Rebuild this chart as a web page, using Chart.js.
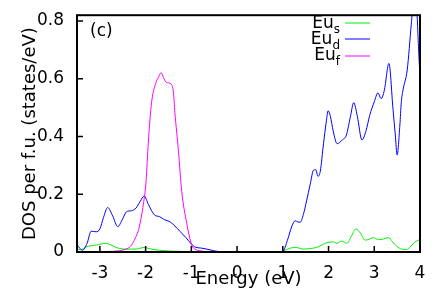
<!DOCTYPE html>
<html>
<head>
<meta charset="utf-8">
<script src="https://cdn.jsdelivr.net/npm/chart.js@4.4.1/dist/chart.umd.min.js"></script>
<style>
  html, body { margin: 0; padding: 0; background: #fff; }
  #wrap { width: 436px; height: 294px; }
</style>
</head>
<body>
<div id="wrap"><canvas id="dos" width="436" height="294"></canvas></div>
<script>
/* ====== DATA ====== */
const xTicks = [-3, -2, -1, 0, 1, 2, 3, 4];
const yTicks = [0, 0.2, 0.4, 0.6, 0.8];

// Eu s
const sEnergy = [-3.5, -3.42, -3.3, -3.08, -2.87, -2.75, -2.65, -2.43, -2.21, -2.1, -2.03, -1.95, -1.84, -1.55, -1.2, -1.0,
  0.9, 1.0, 1.1, 1.27, 1.45, 1.6, 1.74, 1.85, 1.92, 2.02, 2.11, 2.18, 2.29, 2.4, 2.5, 2.6, 2.7, 2.8, 2.9, 2.98,
  3.09, 3.2, 3.31, 3.4, 3.49, 3.6, 3.71, 3.8, 3.89, 4.0];
const sDos = [0.01, 0.008, 0.018, 0.024, 0.03, 0.024, 0.016, 0.01, 0.01, 0.014, 0.016, 0.013, 0.009, 0.004, 0.002, 0,
  0, 0.002, 0.01, 0.016, 0.01, 0.012, 0.016, 0.024, 0.03, 0.034, 0.035, 0.03, 0.038, 0.03, 0.055, 0.08, 0.065, 0.041, 0.045, 0.05,
  0.043, 0.045, 0.05, 0.035, 0.02, 0.01, 0.009, 0.02, 0.035, 0.043];

// Eu d
const dEnergy = [-3.5, -3.38, -3.28, -3.19, -3.08, -3.0, -2.92, -2.83, -2.72, -2.61, -2.5, -2.42, -2.31, -2.21, -2.12, -2.03,
  -1.94, -1.81, -1.69, -1.59, -1.47, -1.36, -1.25, -1.12, -1.0, -0.9, -0.8, -0.66, -0.5, -0.37, -0.3,
  0.9, 1.0, 1.1, 1.2, 1.27, 1.33, 1.38, 1.45, 1.52, 1.6, 1.67, 1.72, 1.77, 1.82, 1.89, 1.95, 1.99, 2.04, 2.1, 2.19,
  2.3, 2.39, 2.48, 2.55, 2.63, 2.73, 2.82, 2.9, 3.0, 3.08, 3.15, 3.22, 3.32, 3.41, 3.46, 3.5, 3.56, 3.59, 3.63,
  3.72, 3.81, 3.87, 3.92, 3.97, 4.0];
const dDos = [0.025, 0.006, 0.03, 0.072, 0.07, 0.08, 0.12, 0.154, 0.125, 0.088, 0.115, 0.139, 0.143, 0.152, 0.175, 0.194,
  0.165, 0.129, 0.122, 0.112, 0.105, 0.09, 0.072, 0.05, 0.028, 0.016, 0.014, 0.01, 0.004, 0.001, 0,
  0, 0.002, 0.04, 0.09, 0.108, 0.104, 0.103, 0.13, 0.177, 0.235, 0.283, 0.285, 0.262, 0.28, 0.375, 0.45, 0.489, 0.47, 0.42, 0.375,
  0.388, 0.405, 0.47, 0.517, 0.47, 0.388, 0.42, 0.473, 0.52, 0.551, 0.531, 0.56, 0.653, 0.494, 0.405, 0.336, 0.44, 0.517, 0.562,
  0.63, 0.789, 0.88, 0.86, 0.7, 0.6];

// Eu f
const fEnergy = [-3.5, -2.8, -2.6, -2.43, -2.33, -2.25, -2.14, -2.06, -1.99, -1.94, -1.87, -1.79, -1.72, -1.66, -1.6, -1.54,
  -1.45, -1.39, -1.36, -1.32, -1.28, -1.21, -1.1, -0.99, -0.92, -0.8, -0.5, 4.0];
const fDos = [0.001, 0.002, 0.004, 0.01, 0.02, 0.04, 0.086, 0.154, 0.245, 0.381, 0.517, 0.579, 0.605, 0.621, 0.6, 0.587,
  0.583, 0.551, 0.483, 0.415, 0.347, 0.21, 0.099, 0.024, 0.01, 0.004, 0, 0];

const seriesColors = { s: '#00ee00', d: '#0000ff', f: '#ff00ff' };

function pairs(xs, ys) {
  return xs.map((x, i) => ({ x: x, y: ys[i] }));
}

/* ====== FRAME, INWARD TICKS, KEY, PANEL LABEL ====== */
const decorPlugin = {
  id: 'decor',
  afterDraw(chart) {
    const ctx = chart.ctx;
    const a = chart.chartArea;
    const xs = chart.scales.x;
    const ys = chart.scales.y;
    ctx.save();

    // inward tick marks
    ctx.strokeStyle = '#000';
    ctx.lineWidth = 1.5;
    ctx.beginPath();
    xTicks.forEach(v => {
      const px = xs.getPixelForValue(v);
      ctx.moveTo(px, a.bottom);
      ctx.lineTo(px, a.bottom - 6);
    });
    yTicks.forEach(v => {
      const py = ys.getPixelForValue(v);
      ctx.moveTo(a.left, py);
      ctx.lineTo(a.left + 6, py);
    });
    ctx.stroke();

    // frame
    ctx.lineWidth = 2;
    ctx.strokeRect(a.left, a.top, a.right - a.left, a.bottom - a.top);

    // panel label
    ctx.fillStyle = '#000';
    ctx.font = '17px "DejaVu Sans"';
    ctx.textBaseline = 'middle';
    ctx.textAlign = 'left';
    ctx.fillText('(c)', 90, 32);

    // key with subscripts
    const rows = [
      { sub: 's', color: seriesColors.s, base: 28, line: 23 },
      { sub: 'd', color: seriesColors.d, base: 44, line: 39 },
      { sub: 'f', color: seriesColors.f, base: 60, line: 56 },
    ];
    ctx.textBaseline = 'alphabetic';
    rows.forEach(r => {
      ctx.font = '17px "DejaVu Sans"';
      const w1 = ctx.measureText('Eu').width;
      ctx.font = '12px "DejaVu Sans"';
      const w2 = ctx.measureText(r.sub).width;
      const x0 = 340 - w1 - w2;
      ctx.fillStyle = '#000';
      ctx.font = '17px "DejaVu Sans"';
      ctx.fillText('Eu', x0, r.base);
      ctx.font = '12px "DejaVu Sans"';
      ctx.fillText(r.sub, x0 + w1, r.base + 5);
      ctx.strokeStyle = r.color;
      ctx.lineWidth = 1;
      ctx.beginPath();
      ctx.moveTo(345, r.line);
      ctx.lineTo(370, r.line);
      ctx.stroke();
    });

    ctx.restore();
  }
};

const ctx = document.getElementById('dos').getContext('2d');
new Chart(ctx, {
  type: 'line',
  data: {
    datasets: [
      { label: 'Eu s', data: pairs(sEnergy, sDos), borderColor: seriesColors.s, order: 2 },
      { label: 'Eu d', data: pairs(dEnergy, dDos), borderColor: seriesColors.d, order: 1 },
      { label: 'Eu f', data: pairs(fEnergy, fDos), borderColor: seriesColors.f, order: 0 },
    ],
  },
  options: {
    responsive: false,
    animation: false,
    layout: { padding: { top: 10, right: 16, left: 0, bottom: 0 } },
    elements: {
      point: { radius: 0 },
      line: { borderWidth: 1, fill: false, cubicInterpolationMode: 'monotone' },
    },
    plugins: { legend: { display: false }, tooltip: { enabled: false } },
    scales: {
      x: {
        type: 'linear',
        min: -3.5,
        max: 4,
        afterBuildTicks: (s) => { s.ticks = xTicks.map(v => ({ value: v })); },
        afterFit: (s) => { s.height = 42; },
        grid: { display: false },
        border: { display: false },
        ticks: {
          color: '#000',
          padding: 3,
          maxRotation: 0,
          font: { family: 'DejaVu Sans', size: 17 },
          callback: (v) => String(v),
        },
        title: {
          display: true,
          text: 'Energy (eV)',
          color: '#000',
          font: { family: 'DejaVu Sans', size: 18, lineHeight: 1 },
          padding: { top: 0, bottom: 6 },
        },
      },
      y: {
        type: 'linear',
        min: 0,
        max: 0.82,
        afterBuildTicks: (s) => { s.ticks = yTicks.map(v => ({ value: v })); },
        afterFit: (s) => { s.width = 77; },
        grid: { display: false },
        border: { display: false },
        ticks: {
          color: '#000',
          padding: 5,
          font: { family: 'DejaVu Sans', size: 17 },
          callback: (v) => String(v),
        },
        title: {
          display: true,
          text: 'DOS per f.u. (states/eV)',
          color: '#000',
          font: { family: 'DejaVu Sans', size: 18, lineHeight: 1 },
          padding: { top: 21, bottom: 0 },
        },
      },
    },
  },
  plugins: [decorPlugin],
});
</script>
</body>
</html>
